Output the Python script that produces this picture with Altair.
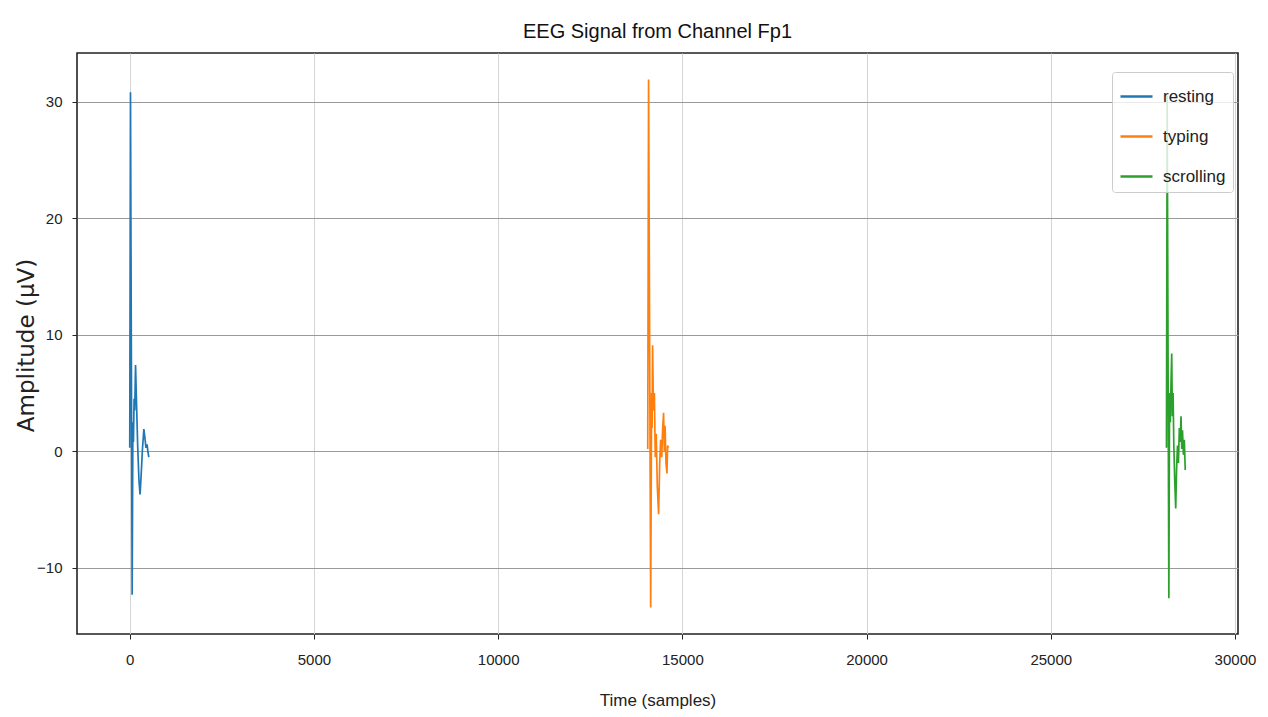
import altair as alt
import pandas as pd

# --- data ---
resting_x = [0, 20, 65, 85, 100, 118, 135, 157, 185, 215, 250, 280, 310, 345, 383, 410, 440, 470, 495, 518]
resting_y = [0.3, 30.8, -12.3, 2.5, 0.8, 4.5, 3.5, 7.4, 4.0, 0.5, -2.5, -3.7, -2.0, 0.2, 1.9, 1.2, 0.3, 0.6, -0.1, -0.5]

typing_x = [14060, 14083, 14140, 14165, 14178, 14192, 14215, 14240, 14265, 14290, 14320, 14355, 14385, 14410, 14440, 14465, 14490, 14510, 14530, 14555, 14582, 14600, 14620]
typing_y = [0.2, 31.9, -13.4, 5.0, 2.0, 9.1, 3.5, 5.0, -0.5, 1.5, -3.0, -5.4, -1.0, 1.0, -0.5, 2.0, 3.3, 0.0, 2.2, -1.0, -1.9, 0.5, 0.3]

scrolling_x = [28140, 28160, 28205, 28225, 28245, 28265, 28283, 28300, 28320, 28340, 28365, 28391, 28415, 28440, 28465, 28490, 28515, 28535, 28555, 28575, 28600, 28625, 28650]
scrolling_y = [0.3, 30.5, -12.6, 5.0, 2.5, 6.0, 8.4, 3.0, 5.0, 0.5, -2.5, -4.9, -1.5, 0.5, -1.0, 2.0, 0.8, 3.0, 0.2, 1.8, -0.3, 1.0, -1.6]

classes = ["resting", "typing", "scrolling"]
colors = ["#1f77b4", "#ff7f0e", "#2ca02c"]

x_ticks = [0, 5000, 10000, 15000, 20000, 25000, 30000]
y_ticks = [-10, 0, 10, 20, 30]

rows = []
for name, xs, ys in [("resting", resting_x, resting_y),
                     ("typing", typing_x, typing_y),
                     ("scrolling", scrolling_x, scrolling_y)]:
    for x, y in zip(xs, ys):
        rows.append({"t": x, "amp": y, "cls": name})
df = pd.DataFrame(rows)

SANS = "Liberation Sans, Arial, sans-serif"

chart = alt.Chart(df).mark_line(strokeWidth=1.7, clip=True).encode(
    x=alt.X("t:Q",
            scale=alt.Scale(domain=[-1432, 30082], nice=False, zero=False),
            axis=alt.Axis(values=x_ticks, title="Time (samples)", format="d",
                          labelPadding=13, titleY=71, titleBaseline="alphabetic",
                          gridColor="#d4d4d4")),
    y=alt.Y("amp:Q",
            scale=alt.Scale(domain=[-15.67, 34.17], nice=False, zero=False),
            axis=alt.Axis(values=y_ticks, title="Amplitude (µV)",
                          labelPadding=10, titleX=-44, titleY=292,
                          titleAlign="center", titleBaseline="alphabetic",
                          titleFont="DejaVu Sans", titleFontSize=23,
                          gridColor="#9a9a9a")),
    color=alt.Color("cls:N",
                    scale=alt.Scale(domain=classes, range=colors),
                    sort=classes,
                    legend=alt.Legend(title=None, orient="none",
                                      legendX=1035, legendY=19,
                                      symbolType="stroke", symbolSize=1024,
                                      symbolStrokeWidth=2.5,
                                      labelFont=SANS, labelFontSize=17,
                                      labelColor="#222", labelOffset=9,
                                      rowPadding=14, padding=7,
                                      fillColor="rgba(255,255,255,0.8)",
                                      strokeColor="#cccccc", cornerRadius=3)),
    detail="cls:N",
).properties(
    width=1161, height=581,
    title=alt.TitleParams("EEG Signal from Channel Fp1", anchor="middle",
                          font=SANS, fontSize=20, fontWeight="normal",
                          color="#111", baseline="alphabetic", offset=13,
                          frame="group", dy=18),
    autosize=alt.AutoSizeParams(type="none"),
    padding={"left": 77, "top": 53, "right": 30, "bottom": 83},
).configure_view(
    stroke="#222", strokeWidth=1.6
).configure_axis(
    domain=False, grid=True, gridWidth=1,
    ticks=True, tickColor="#222", tickSize=5, tickWidth=1,
    labelFont=SANS, labelFontSize=15, labelColor="#222",
    titleFont=SANS, titleFontSize=17, titleColor="#222", titleFontWeight="normal",
)

chart.save("out.html", embed_options={"renderer": "svg", "actions": False})
